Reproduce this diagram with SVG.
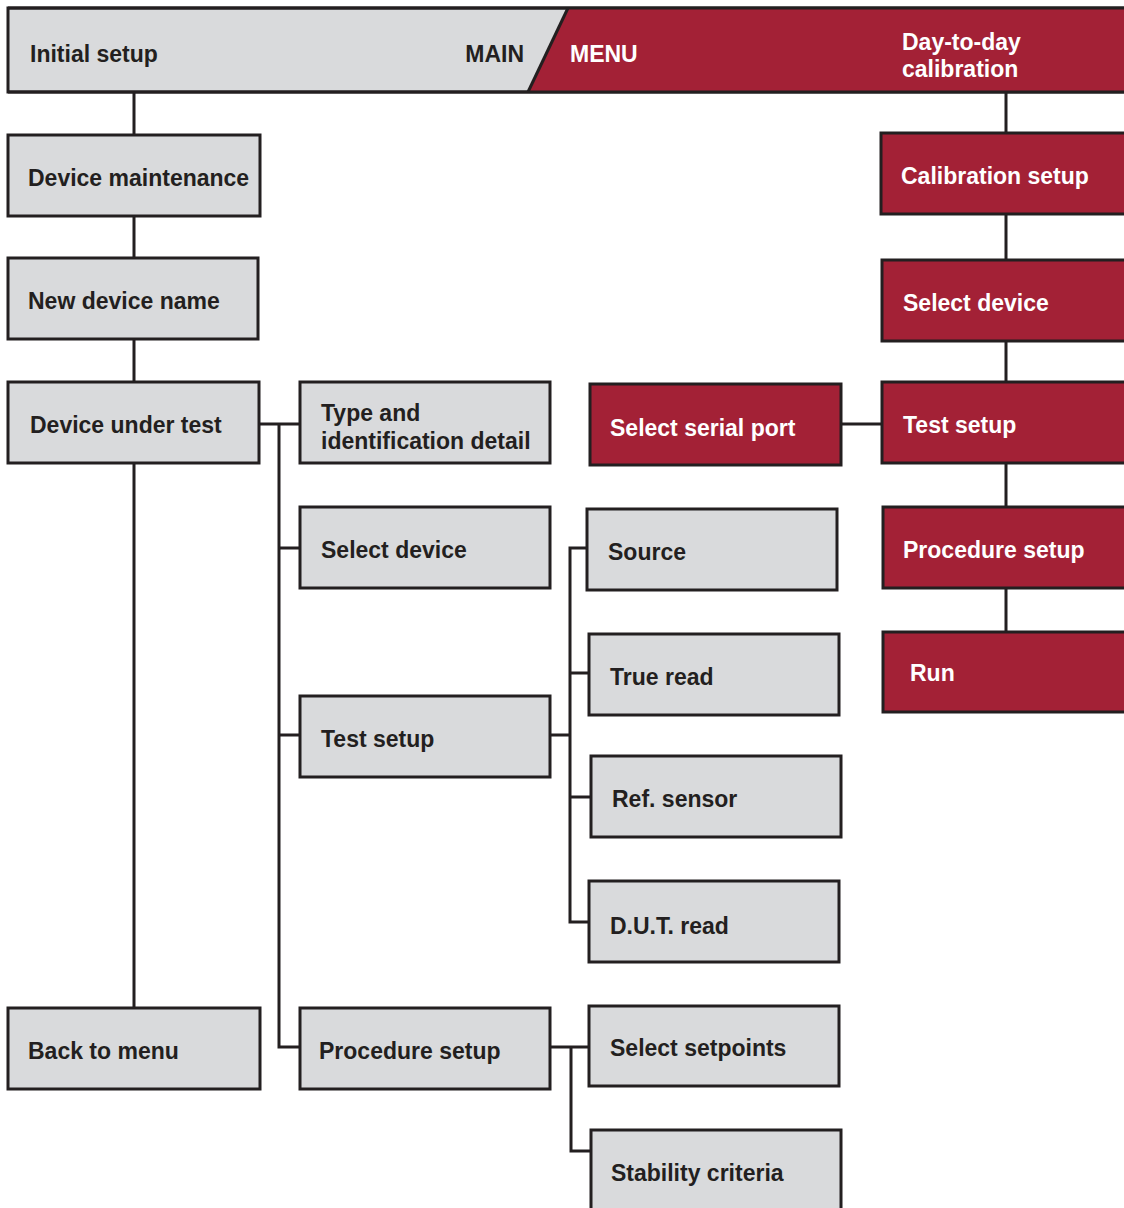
<svg xmlns="http://www.w3.org/2000/svg" width="1124" height="1208" viewBox="0 0 1124 1208">
<style>
.g{fill:#d9dadc;stroke:#231f20;stroke-width:3}
.r{fill:#a32136;stroke:#231f20;stroke-width:3}
.t{font-family:"Liberation Sans",Arial,sans-serif;font-weight:bold;font-size:23px;fill:#231f20}
.w{font-family:"Liberation Sans",Arial,sans-serif;font-weight:bold;font-size:23px;fill:#ffffff}
.c{fill:none;stroke:#231f20;stroke-width:3}
</style>
<rect width="1124" height="1208" fill="#ffffff"/>
<g id="connectors">
<path class="c" d="M134 92V1008"/>
<path class="c" d="M259 424H300M279 424V1047H300M279 548H300M279 735H300"/>
<path class="c" d="M550 735H570M587 548H570V922H589M570 673H589M570 797H591"/>
<path class="c" d="M550 1047H589M571 1047V1151H591"/>
<path class="c" d="M1006 92V632"/>
<path class="c" d="M841 424H882"/>
</g>
<g id="banner">
<rect x="8" y="8" width="1130" height="84" class="g"/>
<polygon points="568,8 1140,8 1140,92 528,92" fill="#a32136"/>
<path class="c" d="M568 8L528 92"/>
<path class="c" d="M8 8H1130M8 92H1130"/>
<text class="t" x="30" y="62">Initial setup</text>
<text class="t" x="524" y="62" text-anchor="end">MAIN</text>
<text class="w" x="570" y="62">MENU</text>
<text class="w" x="902" y="50">Day-to-day</text>
<text class="w" x="902" y="77">calibration</text>
</g>
<g id="device-maintenance"><rect class="g" x="8" y="135" width="252" height="81"/><text class="t" x="28" y="186">Device maintenance</text></g>
<g id="new-device-name"><rect class="g" x="8" y="258" width="250" height="81"/><text class="t" x="28" y="309">New device name</text></g>
<g id="device-under-test"><rect class="g" x="8" y="382" width="251" height="81"/><text class="t" x="30" y="433">Device under test</text></g>
<g id="back-to-menu"><rect class="g" x="8" y="1008" width="252" height="81"/><text class="t" x="28" y="1059">Back to menu</text></g>
<g id="type-id"><rect class="g" x="300" y="382" width="250" height="81"/><text class="t" x="321" y="421">Type and</text><text class="t" x="321" y="449">identification detail</text></g>
<g id="select-device-1"><rect class="g" x="300" y="507" width="250" height="81"/><text class="t" x="321" y="558">Select device</text></g>
<g id="test-setup-1"><rect class="g" x="300" y="696" width="250" height="81"/><text class="t" x="321" y="747">Test setup</text></g>
<g id="procedure-setup-1"><rect class="g" x="300" y="1008" width="250" height="81"/><text class="t" x="319" y="1059">Procedure setup</text></g>
<g id="source"><rect class="g" x="587" y="509" width="250" height="81"/><text class="t" x="608" y="560">Source</text></g>
<g id="true-read"><rect class="g" x="589" y="634" width="250" height="81"/><text class="t" x="610" y="685">True read</text></g>
<g id="ref-sensor"><rect class="g" x="591" y="756" width="250" height="81"/><text class="t" x="612" y="807">Ref. sensor</text></g>
<g id="dut-read"><rect class="g" x="589" y="881" width="250" height="81"/><text class="t" x="610" y="934">D.U.T. read</text></g>
<g id="select-setpoints"><rect class="g" x="589" y="1006" width="250" height="80"/><text class="t" x="610" y="1056">Select setpoints</text></g>
<g id="stability-criteria"><rect class="g" x="591" y="1130" width="250" height="90"/><text class="t" x="611" y="1181">Stability criteria</text></g>
<g id="select-serial-port"><rect class="r" x="590" y="384" width="251" height="81"/><text class="w" x="610" y="436">Select serial port</text></g>
<g id="calibration-setup"><rect class="r" x="881" y="133" width="260" height="81"/><text class="w" x="901" y="184">Calibration setup</text></g>
<g id="select-device-2"><rect class="r" x="882" y="260" width="260" height="81"/><text class="w" x="903" y="311">Select device</text></g>
<g id="test-setup-2"><rect class="r" x="882" y="382" width="260" height="81"/><text class="w" x="903" y="433">Test setup</text></g>
<g id="procedure-setup-2"><rect class="r" x="883" y="507" width="260" height="81"/><text class="w" x="903" y="558">Procedure setup</text></g>
<g id="run"><rect class="r" x="883" y="632" width="260" height="80"/><text class="w" x="910" y="681">Run</text></g>
</svg>
